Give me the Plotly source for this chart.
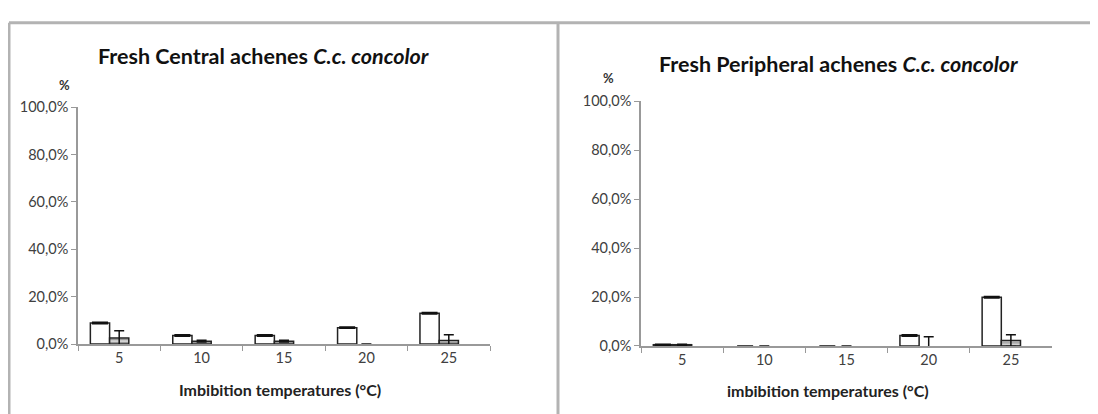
import plotly.graph_objects as go

categories = ["5", "10", "15", "20", "25"]

central_s1 = [0.089, 0.036, 0.036, 0.069, 0.130]
central_s1_err = [0.003, 0.003, 0.003, 0.003, 0.003]
central_s2 = [0.025, 0.012, 0.012, 0.0, 0.015]
central_s2_err = [0.031, 0.004, 0.004, 0.0, 0.024]

peripheral_s1 = [0.005, 0.0, 0.0, 0.043, 0.199]
peripheral_s1_err = [0.002, 0.0, 0.0, 0.003, 0.003]
peripheral_s2 = [0.005, 0.0, 0.0, 0.0, 0.022]
peripheral_s2_err = [0.002, 0.0, 0.0, 0.037, 0.024]

y_ticks = [0, 0.2, 0.4, 0.6, 0.8, 1.0]

OFF = 8  # page body margin
W, H = 1098, 414


def px(X):
    return (X - OFF) / W


def py(Y):
    return 1 - (Y - OFF) / H


fig = go.Figure()


def add_panel(s1, e1, s2, e2, xa, ya):
    lw1 = [1.5 if v > 0 else 0 for v in s1]
    lw2 = [1.5 if v > 0 else 0 for v in s2]
    fig.add_trace(go.Bar(
        x=categories, y=s1, xaxis=xa, yaxis=ya,
        marker=dict(color="white", line=dict(color="#222", width=lw1)),
        error_y=dict(type="data", array=e1, color="#111", thickness=1.5, width=8),
        showlegend=False,
    ))
    fig.add_trace(go.Bar(
        x=categories, y=s2, xaxis=xa, yaxis=ya,
        marker=dict(color="white", line=dict(color="#222", width=lw2),
                    pattern=dict(shape="-", fgcolor="#222", size=3, solidity=0.6)),
        error_y=dict(type="data", array=e2, color="#111", thickness=1.5, width=5),
        showlegend=False,
    ))
    fig.add_trace(go.Bar(
        x=categories, y=[None] * len(categories), xaxis=xa, yaxis=ya,
        marker=dict(color="white"), showlegend=False, hoverinfo="skip",
    ))


add_panel(central_s1, central_s1_err, central_s2, central_s2_err, "x", "y")
add_panel(peripheral_s1, peripheral_s1_err, peripheral_s2, peripheral_s2_err, "x2", "y2")

FONT = "Lato, Open Sans, sans-serif"
tickfont = dict(family=FONT, size=14.5, color="#404040")
xcommon = dict(type="category", categoryorder="array", categoryarray=categories,
               showline=True, linecolor="#999", linewidth=1.5,
               ticks="outside", tickson="boundaries", ticklen=5, tickcolor="#999",
               tickfont=tickfont, showgrid=False, zeroline=False)
ycommon = dict(range=[0, 1.0], tickvals=y_ticks, tickformat=".1%",
               showline=True, linecolor="#999", linewidth=1.5,
               ticks="outside", ticklen=5, tickcolor="#999",
               tickfont=tickfont, showgrid=False, zeroline=False)

fig.update_layout(
    width=W, height=H,
    margin=dict(l=0, r=0, t=0, b=0),
    paper_bgcolor="white", plot_bgcolor="white",
    separators=",.",
    barmode="group", bargap=0.3, bargroupgap=0.0,
    xaxis=dict(domain=[px(78), px(490)], anchor="y", **xcommon),
    yaxis=dict(domain=[py(349), py(102)], anchor="x", **ycommon),
    xaxis2=dict(domain=[px(641), px(1052)], anchor="y2", **xcommon),
    yaxis2=dict(domain=[py(351), py(96)], anchor="x2", **ycommon),
    font=dict(family=FONT, color="#222"),
)

titlefont = dict(family=FONT, size=21.5, color="#111")
labfont = dict(family=FONT, size=16, color="#222")
pctfont = dict(family=FONT, size=13, color="#333")
ann = [
    dict(text="<b>Fresh Central achenes <i>C.c. concolor</i></b>", x=px(263), y=py(49), font=titlefont),
    dict(text="<b>Fresh Peripheral achenes <i>C.c. concolor</i></b>", x=px(838), y=py(57), font=titlefont),
    dict(text="<b>%</b>", x=px(64), y=py(79), font=pctfont),
    dict(text="<b>%</b>", x=px(608), y=py(72), font=pctfont),
    dict(text="<b>Imbibition temperatures (°C)</b>", x=px(280), y=py(396), font=labfont),
    dict(text="<b>imbibition temperatures (°C)</b>", x=px(828), y=py(398), font=labfont),
]
for a in ann:
    a.update(xref="paper", yref="paper", showarrow=False, xanchor="center", yanchor="middle")
fig.update_layout(annotations=ann)

border = dict(color="#b3b3b3", width=3)
fig.update_layout(shapes=[
    dict(type="line", xref="paper", yref="paper", x0=px(9), x1=1.0, y0=py(14), y1=py(14), line=border),
    dict(type="line", xref="paper", yref="paper", x0=px(9), x1=px(9), y0=0, y1=py(14), line=border),
    dict(type="line", xref="paper", yref="paper", x0=px(558), x1=px(558), y0=0, y1=py(14), line=border),
])

fig.write_html("out.html")
